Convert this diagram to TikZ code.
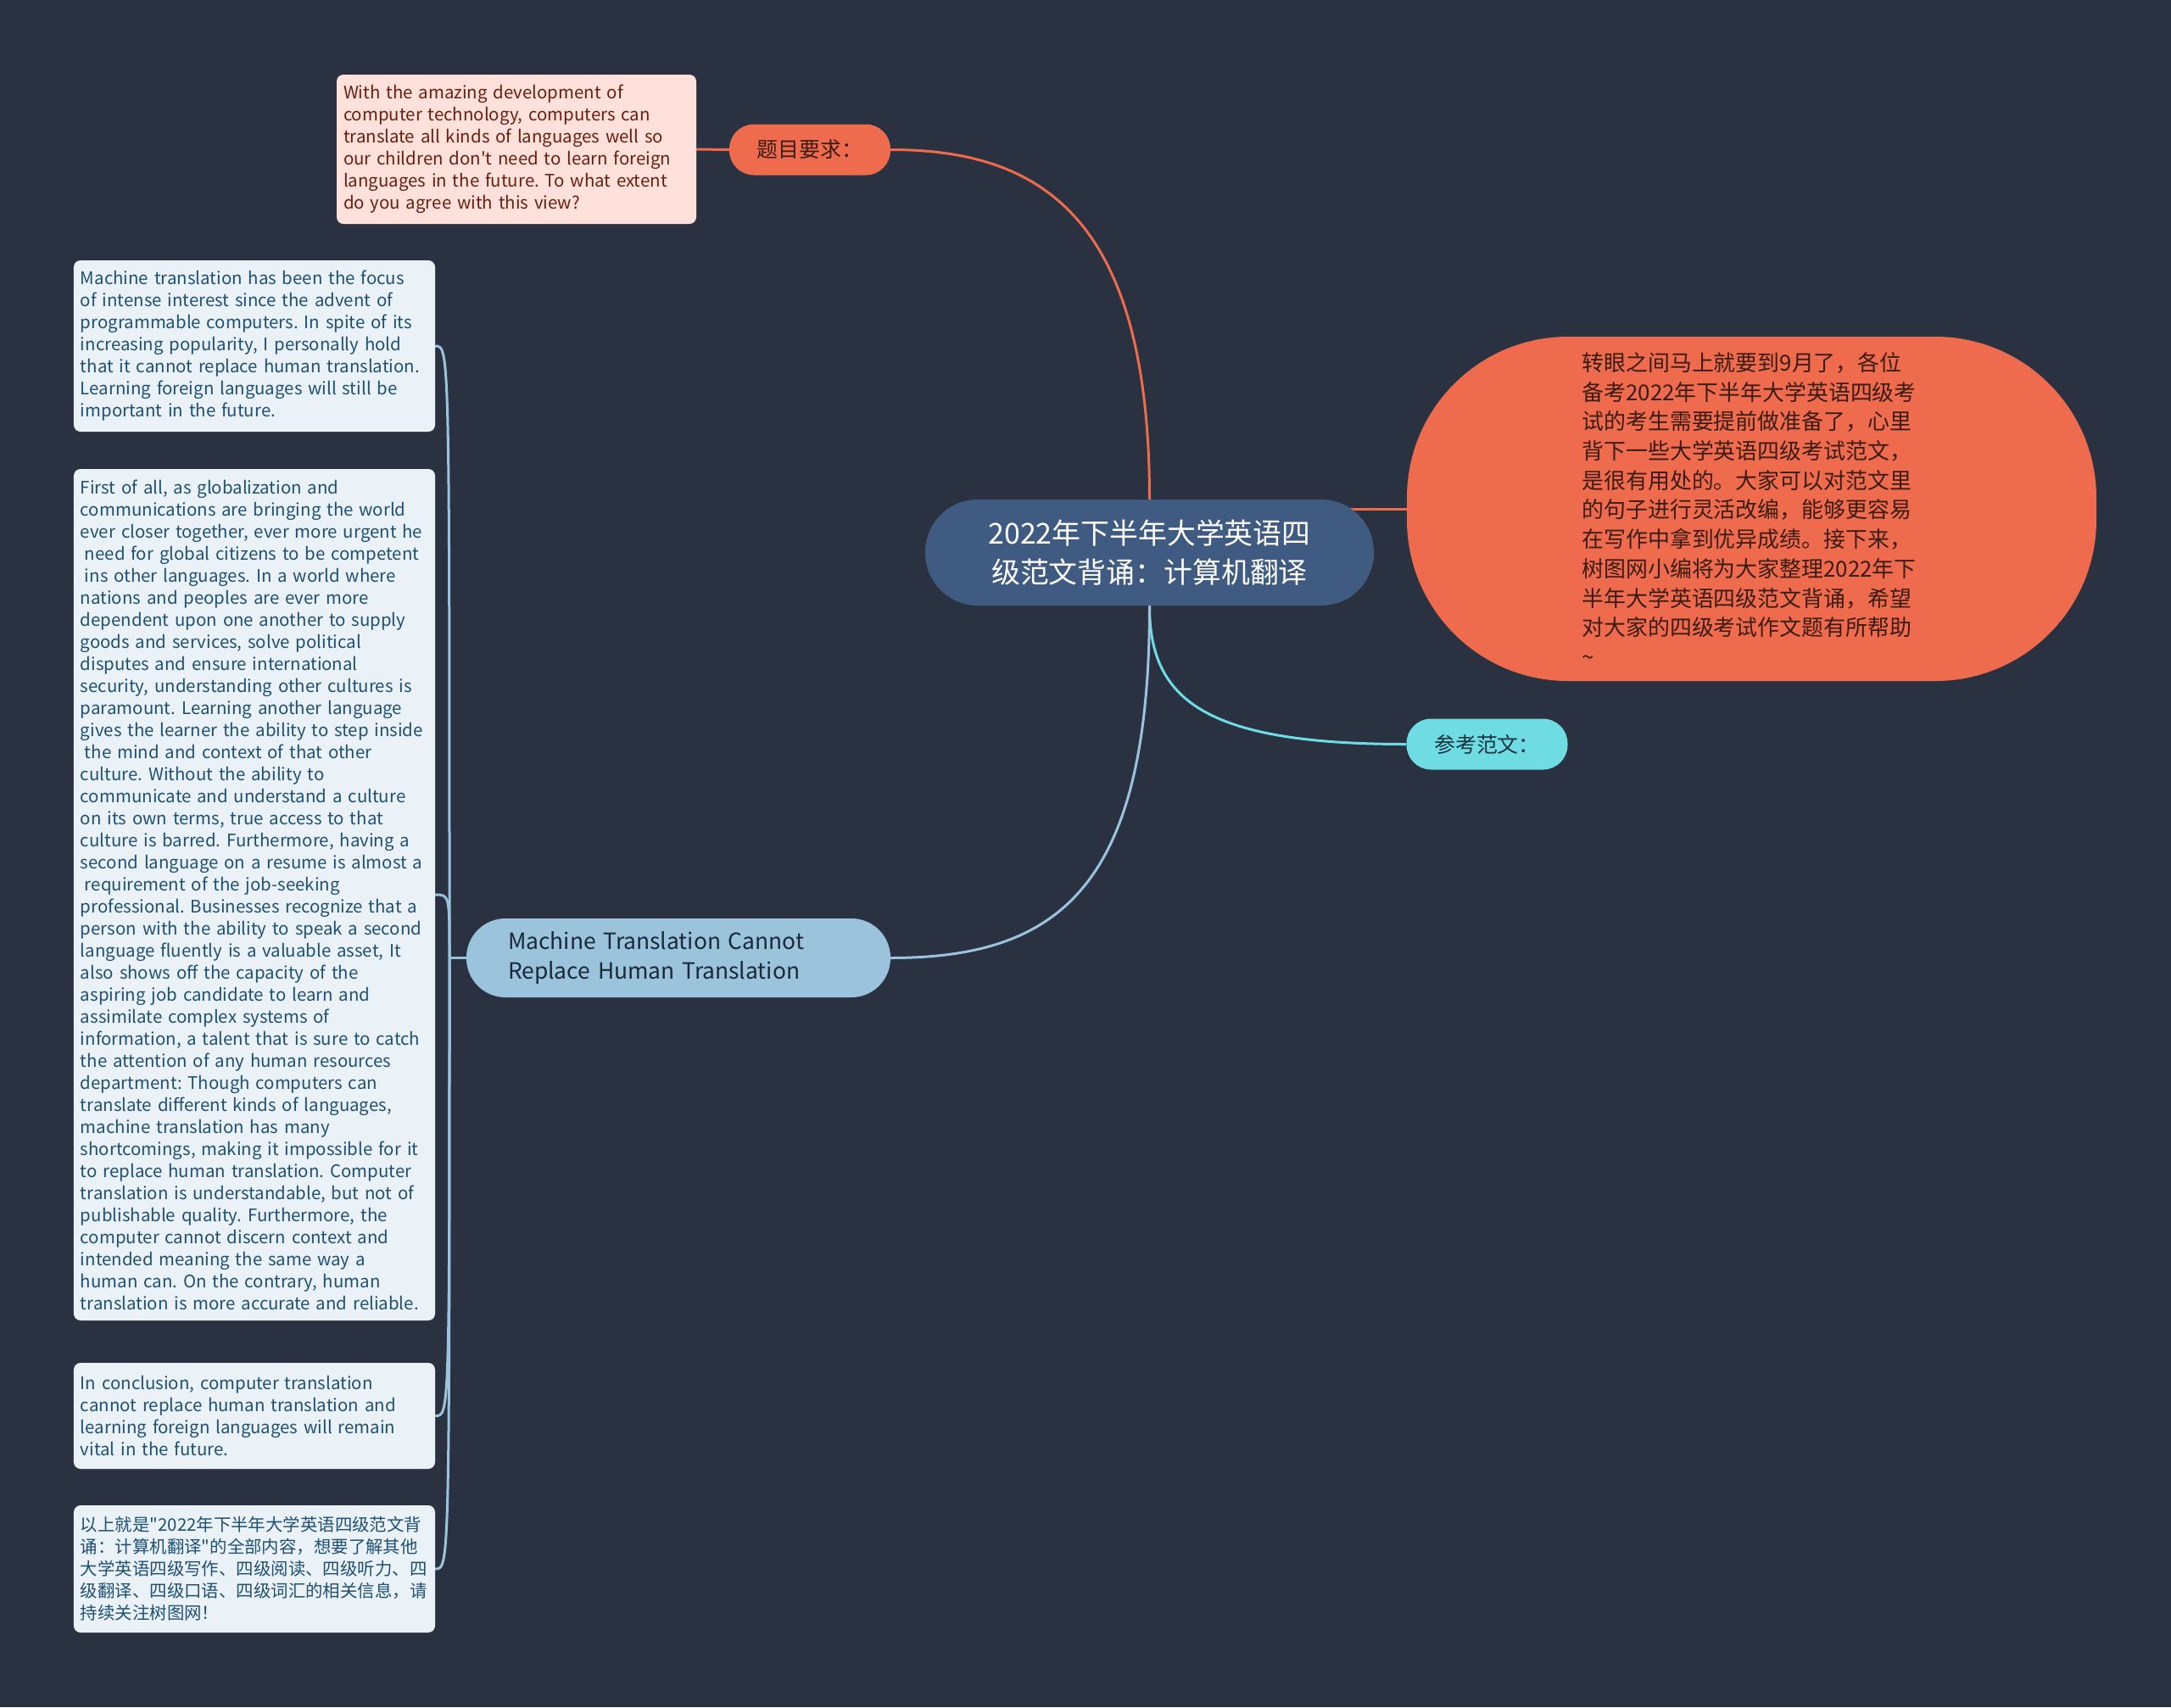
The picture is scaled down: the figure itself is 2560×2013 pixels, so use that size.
\documentclass[tikz,border=0pt]{standalone}
\usepackage{fontspec}
\setmainfont{Noto Sans CJK SC}[Ligatures=TeXOff]
\frenchspacing
\usetikzlibrary{calc}

\definecolor{fond}{HTML}{2A3242}
\definecolor{cRoot}{HTML}{3F5B82}
\definecolor{cOrange}{HTML}{EE6B4D}
\definecolor{cOrText}{HTML}{3B1C14}
\definecolor{cPink}{HTML}{FDE1DA}
\definecolor{cPinkText}{HTML}{6A1E12}
\definecolor{cCyan}{HTML}{6EDCE2}
\definecolor{cCyanText}{HTML}{1B3540}
\definecolor{cBlue}{HTML}{9CC3DC}
\definecolor{cBlueText}{HTML}{18293A}
\definecolor{cLeaf}{HTML}{EAF2F8}
\definecolor{cLeafText}{HTML}{1F5073}

\pgfdeclarelayer{fondlayer}
\pgfdeclarelayer{aretes}
\pgfsetlayers{fondlayer,aretes,main}

\begin{document}
\begin{tikzpicture}[x=1bp, y=-1bp,
    every node/.style={inner sep=0pt},
    racine/.style={fill=cRoot, text=white, rounded corners=62bp,
      minimum width=529bp, minimum height=125bp, align=center,
      font=\fontsize{34}{46}\selectfont},
    pilule/.style={fill=#1, rounded corners=29bp,
      minimum width=190bp, minimum height=60bp,
      font=\fontsize{25}{30}\selectfont},
    feuille/.style={fill=cLeaf, text=cLeafText, rounded corners=8bp,
      minimum width=426bp, text width=410bp, align=left,
      font=\fontsize{20.5}{26.1}\selectfont},
    lienO/.style={draw=cOrange, line width=3bp},
    lienC/.style={draw=cCyan, line width=3bp},
    lienB/.style={draw=cBlue, line width=3bp}]
  \begin{pgfonlayer}{fondlayer}
    \fill[fond] (0,0) rectangle (2560,2013);
  \end{pgfonlayer}
  \useasboundingbox (0,0) rectangle (2560,2013);

  %Noeud central
  \node[racine] (N0) at (1355.5,651.5) {2022年下半年大学英语四\\级范文背诵：计算机翻译};

  %Branche du sujet
  \node[pilule=cOrange, text=cOrText] (N1) at (955,176.5) {题目要求：};
  \node[fill=cPink, text=cPinkText, rounded corners=8bp, minimum width=424bp,
    minimum height=176bp, text width=408bp, align=left,
    font=\fontsize{20.5}{26.1}\selectfont] (N11) at (609,176) {With the amazing development of\\
    computer technology, computers can\\
    translate all kinds of languages well so\\
    our children don't need to learn foreign\\
    languages in the future. To what extent\\
    do you agree with this view?};

  %Introduction
  \node[fill=cOrange, text=cOrText, rounded corners=190bp, minimum width=813bp,
    minimum height=406bp, text width=400bp, align=left,
    font=\fontsize{26}{34.8}\selectfont] (N2) at (2065.5,600) {转眼之间马上就要到9月了，各位\\
    备考2022年下半年大学英语四级考\\
    试的考生需要提前做准备了，心里\\
    背下一些大学英语四级考试范文，\\
    是很有用处的。大家可以对范文里\\
    的句子进行灵活改编，能够更容易\\
    在写作中拿到优异成绩。接下来，\\
    树图网小编将为大家整理2022年下\\
    半年大学英语四级范文背诵，希望\\
    对大家的四级考试作文题有所帮助\\
    \textasciitilde};

  %Reference
  \node[pilule=cCyan, text=cCyanText] (N3) at (1753.5,877.5) {参考范文：};

  %Branche de l'essai
  \node[fill=cBlue, text=cBlueText, rounded corners=46bp, minimum width=500bp,
    minimum height=93bp, text width=402bp, align=left,
    font=\fontsize{26.5}{36}\selectfont] (N4) at (800,1129.5) {Machine Translation Cannot\\
    Replace Human Translation};
  \coordinate (H) at (530,1129.5);

  \node[feuille, minimum height=202bp] (N41) at (300,408) {Machine translation has been the focus\\
    of intense interest since the advent of\\
    programmable computers. In spite of its\\
    increasing popularity, I personally hold\\
    that it cannot replace human translation.\\
    Learning foreign languages will still be\\
    important in the future.};
  \node[feuille, minimum height=1004bp] (N42) at (300,1055) {First of all, as globalization and\\
    communications are bringing the world\\
    ever closer together, ever more urgent he\\
    \hspace*{5bp}need for global citizens to be competent\\
    \hspace*{5bp}ins other languages. In a world where\\
    nations and peoples are ever more\\
    dependent upon one another to supply\\
    goods and services, solve political\\
    disputes and ensure international\\
    security, understanding other cultures is\\
    paramount. Learning another language\\
    gives the learner the ability to step inside\\
    \hspace*{5bp}the mind and context of that other\\
    culture. Without the ability to\\
    communicate and understand a culture\\
    on its own terms, true access to that\\
    culture is barred. Furthermore, having a\\
    second language on a resume is almost a\\
    \hspace*{5bp}requirement of the job-seeking\\
    professional. Businesses recognize that a\\
    person with the ability to speak a second\\
    language fluently is a valuable asset, It\\
    also shows off the capacity of the\\
    aspiring job candidate to learn and\\
    assimilate complex systems of\\
    information, a talent that is sure to catch\\
    the attention of any human resources\\
    department: Though computers can\\
    translate different kinds of languages,\\
    machine translation has many\\
    shortcomings, making it impossible for it\\
    to replace human translation. Computer\\
    translation is understandable, but not of\\
    publishable quality. Furthermore, the\\
    computer cannot discern context and\\
    intended meaning the same way a\\
    human can. On the contrary, human\\
    translation is more accurate and reliable.};
  \node[feuille, minimum height=125bp] (N43) at (300,1669.5) {In conclusion, computer translation\\
    cannot replace human translation and\\
    learning foreign languages will remain\\
    vital in the future.};
  \node[feuille, minimum height=150bp] (N44) at (300,1850) {以上就是"2022年下半年大学英语四级范文背\\
    诵：计算机翻译"的全部内容，想要了解其他\\
    大学英语四级写作、四级阅读、四级听力、四\\
    级翻译、四级口语、四级词汇的相关信息，请\\
    持续关注树图网！};

  %Aretes
  \begin{pgfonlayer}{aretes}
    \draw[lienO] (N0.north) .. controls +(0,-330) and +(180,0) .. (N1.east);
    \draw[lienO] (N1.west) -- (N11.east);
    \draw[lienO] (N0.center |- N2.west) -- (N2.west);
    \draw[lienC] (N0.south) .. controls +(0,110) and +(-240,0) .. (N3.west);
    \draw[lienB] (N0.south) .. controls +(0,330) and +(200,0) .. (N4.east);
    \draw[lienB] (N4.west) -- (H);
    \draw[lienB] (H) .. controls (H |- N41.east) .. (N41.east);
    \draw[lienB] (H) .. controls (H |- N42.east) .. (N42.east);
    \draw[lienB] (H) .. controls (H |- N43.east) .. (N43.east);
    \draw[lienB] (H) .. controls (H |- N44.east) .. (N44.east);
  \end{pgfonlayer}
\end{tikzpicture}
\end{document}
